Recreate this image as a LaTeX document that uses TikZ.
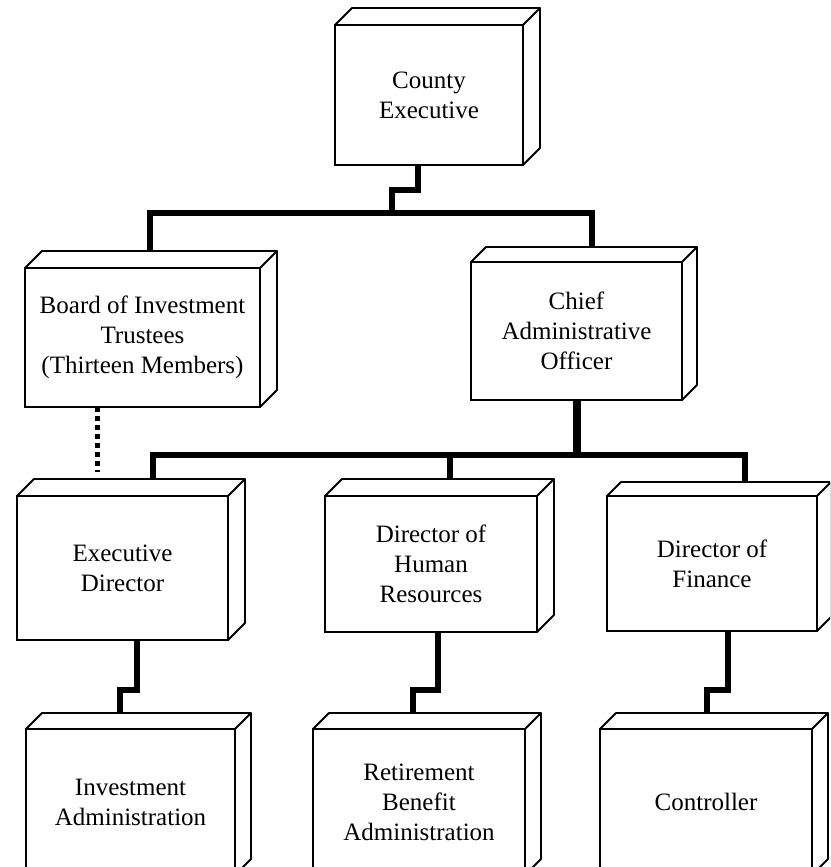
\documentclass[tikz,border=0pt]{standalone}
\usepackage{fontspec}
\setmainfont{Liberation Serif}
\begin{document}
\begin{tikzpicture}[x=1pt,y=-1pt,
  box/.style={draw, line width=1.8pt, fill=white, inner sep=0pt, outer sep=0pt,
    align=center, font=\fontsize{25}{30}\selectfont},
  boxline/.style={line width=1.8pt, line join=round},
  conn/.style={line width=5.5pt, line join=miter},
  dotconn/.style={line width=5pt, dash pattern=on 4.5pt off 4.5pt}]
\newcommand\orgbox[7]{%
  \node[box, minimum width={#4-#2}, minimum height={#5-#3}] (#1) at ({(#2+#4)/2},{(#3+#5)/2}) {#7};
  \draw[boxline] (#1.north west) -- ++(#6,-#6) -- ([shift={(#6,-#6)}]#1.north east) -- (#1.north east);
  \draw[boxline] ([shift={(#6,-#6)}]#1.north east) -- ([shift={(#6,-#6)}]#1.south east) -- (#1.south east);
}
\path[use as bounding box] (0,0) rectangle (830,867);
\clip (0,0) rectangle (830,867);
% boxes
\orgbox{ce}{335}{25}{523}{165}{17}{County\\Executive}
\orgbox{bd}{25}{268}{260}{407}{17}{Board of Investment\\Trustees\\(Thirteen Members)}
\orgbox{cao}{471}{262}{682}{400}{15}{Chief\\Administrative\\Officer}
\orgbox{ed}{17}{496}{228}{640}{17}{Executive\\Director}
\orgbox{hr}{325}{496}{537}{632}{17}{Director of\\Human\\Resources}
\orgbox{fin}{607}{496}{817}{631}{14}{Director of\\Finance}
\orgbox{ia}{26}{729}{235}{875}{16}{Investment\\Administration}
\orgbox{rba}{313}{729}{525}{875}{16}{Retirement\\Benefit\\Administration}
\orgbox{ctl}{600}{729}{812}{875}{16}{Controller}
% connectors
\draw[conn] ([xshift=-11]ce.south) -- ++(0,25) -| ++(-26,23);
\draw[conn] ([shift={(7.5,-17)}]bd.north) -- ++(0,-38) -| ([shift={(15.5,-15)}]cao.north);
\draw[dotconn] ([xshift=-45.5]bd.south) -- ([shift={(-25.5,-24)}]ed.north);
\draw[line width=8pt] (cao.south) -- ++(0,56);
\draw[conn] ([shift={(30.5,-17)}]ed.north) -- ++(0,-24) -| ([shift={(33,-14)}]fin.north);
\draw[conn] ([shift={(19,-17)}]hr.north) -- ++(0,-24);
\draw[conn] ([xshift=14.5]ed.south) -- ++(0,50) -| ([shift={(-10.5,-16)}]ia.north);
\draw[conn] ([xshift=7]hr.south) -- ++(0,58) -| ([shift={(-6,-16)}]rba.north);
\draw[conn] ([xshift=16]fin.south) -- ++(0,59) -| ([shift={(1,-16)}]ctl.north);
\end{tikzpicture}
\end{document}
